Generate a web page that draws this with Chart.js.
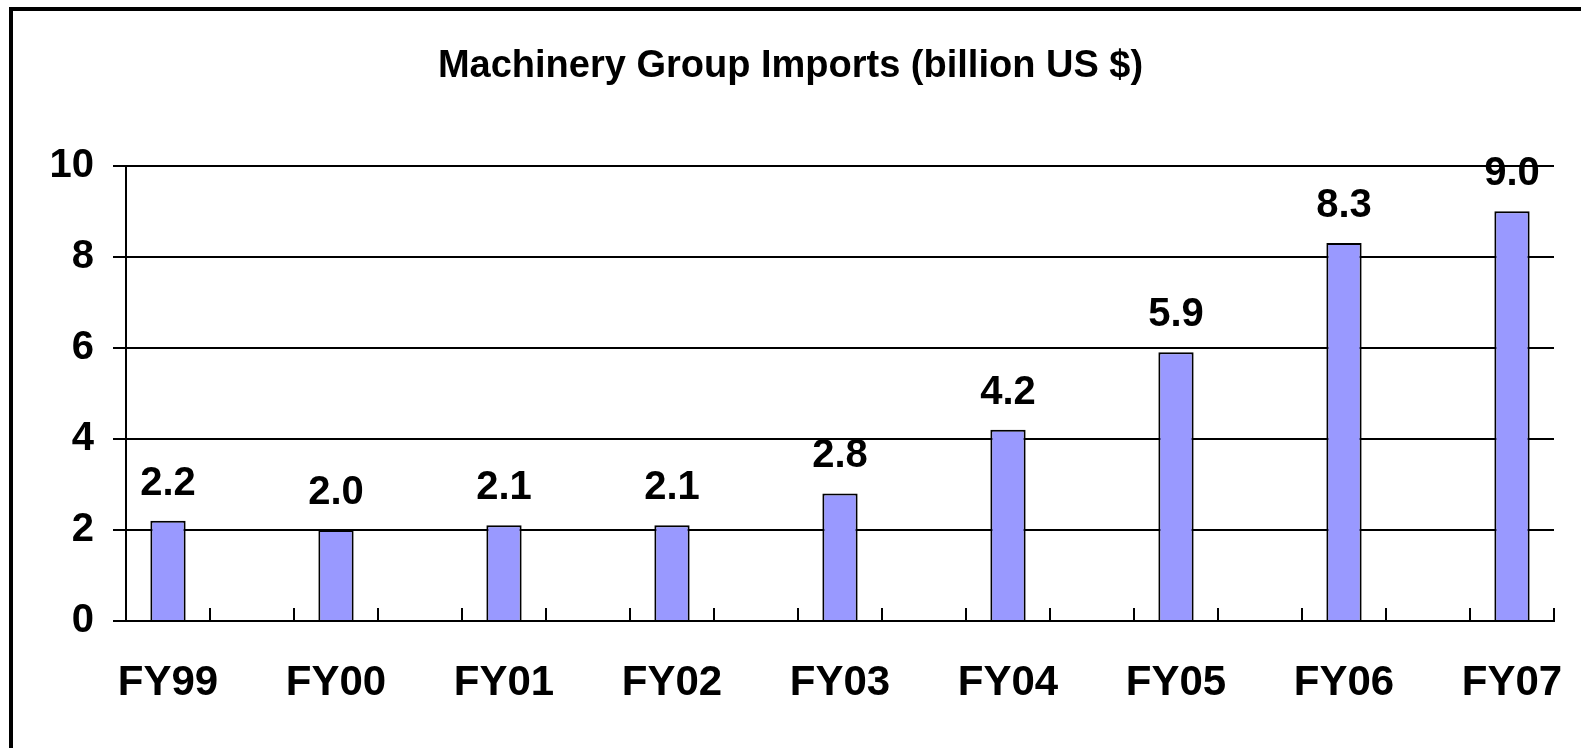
<!DOCTYPE html>
<html>
<head>
<meta charset="utf-8">
<script src="https://cdn.jsdelivr.net/npm/chart.js@4/dist/chart.umd.min.js"></script>
<style>
  html, body { margin: 0; padding: 0; background: #fff; overflow: hidden; }
  #wrap { width: 1581px; height: 748px; position: relative; }
</style>
</head>
<body>
<div id="wrap"><canvas id="myChart" width="1581" height="748"></canvas></div>
<script>
// data
var years = ['FY99', 'FY00', 'FY01', 'FY02', 'FY03', 'FY04', 'FY05', 'FY06', 'FY07'];
var imports = [2.2, 2.0, 2.1, 2.1, 2.8, 4.2, 5.9, 8.3, 9.0];
var yTicks = [0, 2, 4, 6, 8, 10];
var chartTitle = 'Machinery Group Imports (billion US $)';

// the original has an empty slot between every year
var labels = [], values = [];
years.forEach(function(y, i) {
    if (i > 0) { labels.push(''); values.push(null); }
    labels.push(y);
    values.push(imports[i]);
});

var FONT = '"Liberation Sans", Arial, sans-serif';

var frame = {
    id: 'frame',
    beforeDraw: function(chart) {
        var c = chart.ctx;
        c.save();
        c.fillStyle = '#fff';
        c.fillRect(0, 0, chart.width, chart.height);
        c.strokeStyle = '#000';
        c.lineWidth = 4;
        c.strokeRect(11, 9, chart.width + 20, chart.height + 20);
        c.restore();
    }
};

var valueLabels = {
    id: 'valueLabels',
    afterDatasetsDraw: function(chart) {
        var c = chart.ctx;
        var meta = chart.getDatasetMeta(0);
        c.save();
        c.font = 'bold 40px ' + FONT;
        c.fillStyle = '#000';
        c.textAlign = 'center';
        c.textBaseline = 'alphabetic';
        meta.data.forEach(function(bar, i) {
            var v = values[i];
            if (v === null) return;
            c.fillText(v.toFixed(1), bar.x, bar.y - 26);
        });
        c.restore();
    }
};

var myChart = new Chart(document.getElementById('myChart'), {
    type: 'bar',
    data: {
        labels: labels,
        datasets: [{
            data: values,
            backgroundColor: '#9999ff',
            borderColor: '#000',
            borderWidth: 2,
            categoryPercentage: 1,
            barPercentage: 0.42
        }]
    },
    options: {
        responsive: false,
        animation: false,
        layout: { padding: { left: 27, right: 27, top: 7, bottom: 0 } },
        plugins: {
            legend: { display: false },
            tooltip: { enabled: false },
            title: {
                display: true,
                text: chartTitle,
                color: '#000',
                font: { family: FONT, size: 38, weight: 'bold' },
                padding: { top: 37, bottom: 76 }
            }
        },
        scales: {
            x: {
                grid: { drawOnChartArea: false, color: '#000', lineWidth: 2, tickLength: -13, offset: true },
                border: { color: '#000', width: 2 },
                ticks: {
                    autoSkip: false, maxRotation: 0, color: '#000', padding: 50,
                    font: { family: FONT, size: 42, weight: 'bold' }
                },
                afterFit: function(s) {
                    s.height = 127;
                    s.paddingLeft = 0;
                    s.paddingRight = 0;
                }
            },
            y: {
                min: 0, max: 10,
                afterBuildTicks: function(s) { s.ticks = yTicks.map(function(v) { return { value: v }; }); },
                grid: { color: '#000', lineWidth: 2, tickLength: 13 },
                border: { color: '#000', width: 2 },
                ticks: {
                    color: '#000', padding: 19,
                    font: { family: FONT, size: 40, weight: 'bold' }
                },
                afterFit: function(s) { s.width = 99; }
            }
        }
    },
    plugins: [frame, valueLabels]
});
</script>
</body>
</html>
